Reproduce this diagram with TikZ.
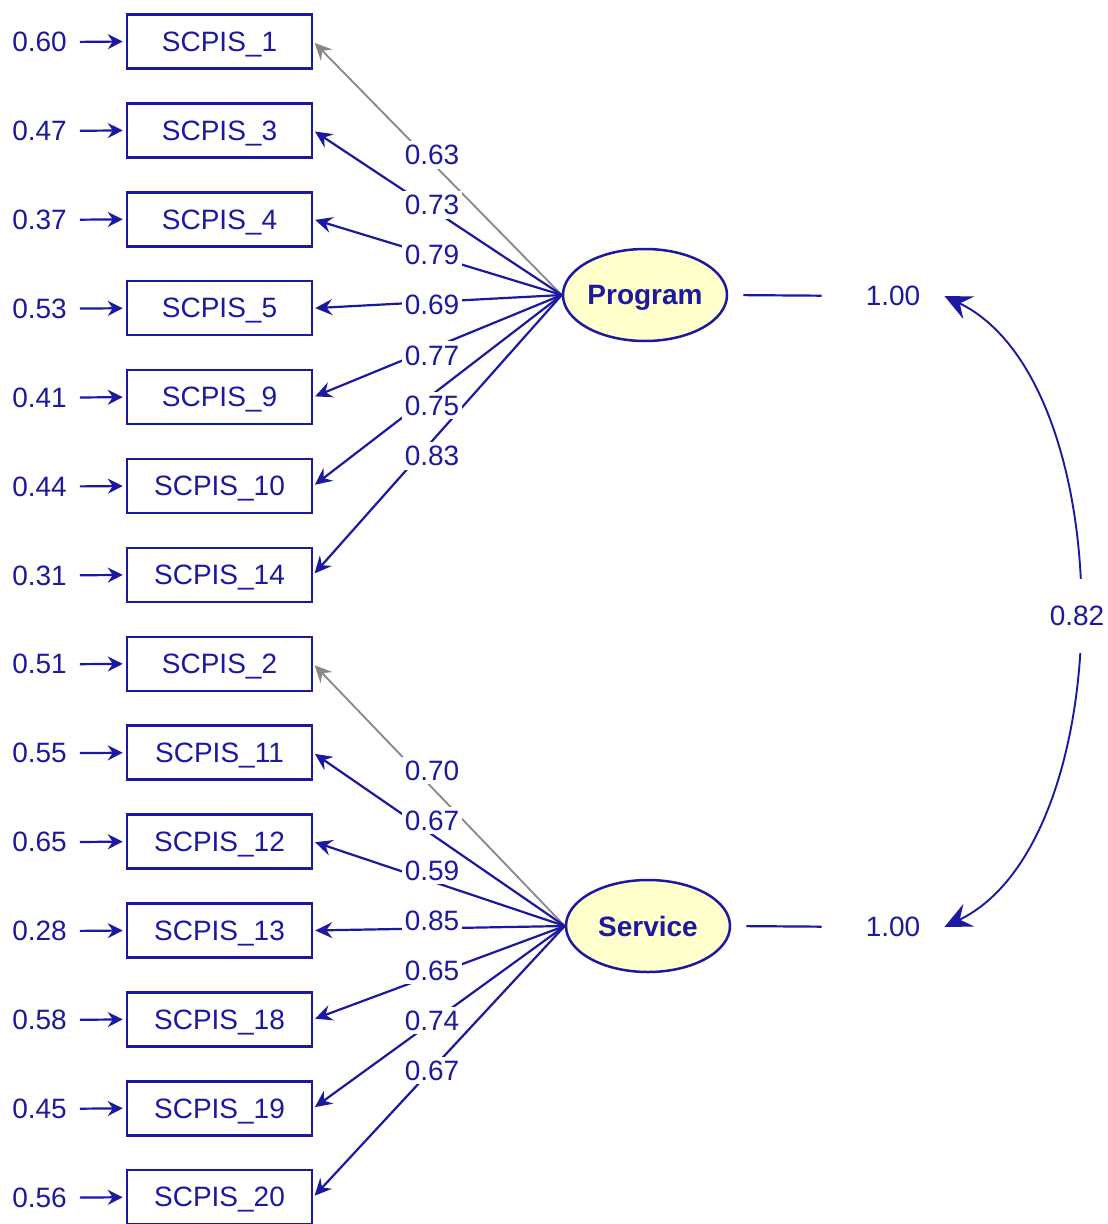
\documentclass[tikz,border=0pt]{standalone}
\usepackage{fontspec}
\setmainfont{Liberation Sans}
\usetikzlibrary{arrows.meta,shapes.geometric}
\definecolor{semblue}{RGB}{28,24,160}
\definecolor{latfill}{RGB}{255,255,204}
\definecolor{fixgray}{RGB}{135,135,135}

\begin{document}
\begin{tikzpicture}[x=1pt,y=-1pt,
  every node/.style={font=\fontsize{28}{32}\selectfont, text=semblue},
  obs/.style={draw=semblue, line width=2.5pt, minimum width=185pt, minimum height=54pt, inner sep=0pt, text depth=0pt},
  lat/.style={ellipse, draw=semblue, line width=2.5pt, fill=latfill, minimum width=164pt, minimum height=92pt, inner sep=0pt, text depth=0pt, font=\fontsize{28}{32}\selectfont\bfseries},
  numlab/.style={inner sep=0pt},
  loadlab/.style={fill=white, inner xsep=3pt, inner ysep=4pt},
  loadline/.style={draw=semblue, line width=2.2pt, -{Stealth[length=17pt,width=16pt,inset=6pt]}, shorten >=2pt},
  fixline/.style={loadline, draw=fixgray, line width=1.8pt},
  errline/.style={draw=semblue, line width=2.2pt, -{Stealth[length=15pt,width=15pt,inset=5pt]}, shorten <=13pt, shorten >=3pt},
  varline/.style={draw=semblue, line width=2.2pt, shorten <=15pt, shorten >=44pt},
  covline/.style={draw=semblue, line width=1.9pt, {Stealth[length=27pt,width=25pt,inset=10pt]}-{Stealth[length=27pt,width=25pt,inset=10pt]}}
]
\useasboundingbox (0,0) rectangle (1108,1224);
\fill[white] (0,0) rectangle (1108,1224);

% indicator boxes with their error variances
\foreach \i/\txt/\err in {0/SCPIS\_1/0.60, 1/SCPIS\_3/0.47, 2/SCPIS\_4/0.37, 3/SCPIS\_5/0.53,
    4/SCPIS\_9/0.41, 5/SCPIS\_10/0.44, 6/SCPIS\_14/0.31, 7/SCPIS\_2/0.51, 8/SCPIS\_11/0.55,
    9/SCPIS\_12/0.65, 10/SCPIS\_13/0.28, 11/SCPIS\_18/0.58, 12/SCPIS\_19/0.45, 13/SCPIS\_20/0.56} {
  \node[obs] (b\i) at (219.5, 41.5+88.9*\i) {\txt};
  \node[numlab] (e\i) at (39.5, 42+88.9*\i) {\err};
  \draw[errline] (e\i.east) -- (b\i.west);
}

% latent factors
\node[lat] (prog) at (645,295) {Program};
\node[lat] (serv) at (648,926) {Service};

% factor variances
\node[numlab] (v1) at (893,296) {1.00};
\node[numlab] (v2) at (893,927) {1.00};
\draw[varline] (prog.east) -- (v1.west);
\draw[varline] (serv.east) -- (v2.west);

% loadings
\draw[fixline] (prog.west) -- (b0.east);
\foreach \i in {1,...,6} \draw[loadline] (prog.west) -- (b\i.east);
\draw[fixline] (serv.west) -- (b7.east);
\foreach \i in {8,...,13} \draw[loadline] (serv.west) -- (b\i.east);

\foreach \k/\v in {0/0.63, 1/0.73, 2/0.79, 3/0.69, 4/0.77, 5/0.75, 6/0.83}
  \node[loadlab] (lp\k) at (432, 155+50.1*\k) {\v};
\foreach \k/\v in {0/0.70, 1/0.67, 2/0.59, 3/0.85, 4/0.65, 5/0.74, 6/0.67}
  \node[loadlab] (ls\k) at (432, 770.5+50*\k) {\v};

% factor covariance
\draw[covline] ([xshift=24pt]v1.east) .. controls +(178,86) and +(178,-86) .. ([xshift=24pt]v2.east);
\node[fill=white, inner xsep=3pt, inner ysep=27pt] (cov) at (1077,616) {0.82};
\end{tikzpicture}
\end{document}
